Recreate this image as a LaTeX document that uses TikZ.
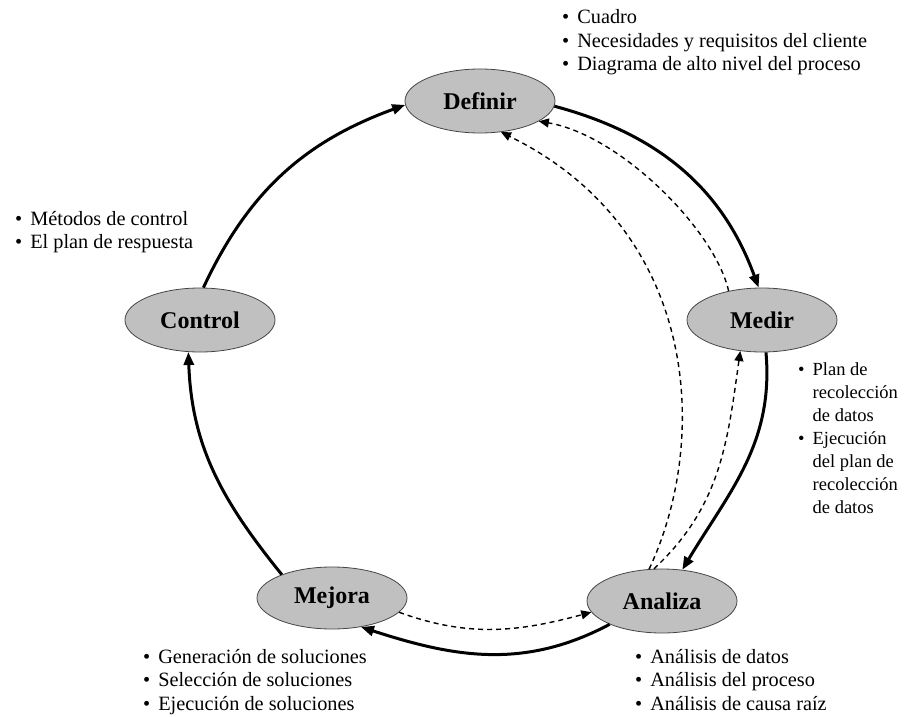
\documentclass[tikz,border=0pt]{standalone}
\usepackage{fontspec}
\setmainfont{Liberation Serif}
\usetikzlibrary{arrows.meta,shapes.geometric}
\definecolor{phasefill}{RGB}{192,192,192}
\definecolor{phaseline}{RGB}{70,70,70}
\newcommand{\bul}{•}
\begin{document}
\begin{tikzpicture}[x=1pt,y=1pt,
  phase/.style={ellipse,draw=phaseline,line width=0.8pt,fill=phasefill,
    minimum width=150pt,minimum height=64pt,inner sep=0pt,
    font=\fontsize{24}{28}\selectfont\bfseries},
  bullets/.style={anchor=base west,inner sep=0pt,align=left,
    font=\fontsize{20.3}{23.5}\selectfont},
  mainarrow/.style={line width=3pt,-{Triangle[length=13pt,width=10pt]}},
  backarrow/.style={line width=1.4pt,dash pattern=on 5pt off 4pt,
    -{Triangle[length=10pt,width=9pt]}}]
\useasboundingbox (0,0) rectangle (905,-717);

\node[phase] (definir) at (480,-101) {Definir};
\node[phase] (medir)   at (762,-320) {Medir};
\node[phase] (control) at (200,-320) {Control};
\node[phase,minimum height=62pt] (mejora)  at (332,-598) {Mejora};
\node[phase] (analiza) at (662,-601) {Analiza};

% main cycle
\draw[mainarrow] (control.84) to[out=65,in=200] (definir.183);
\draw[mainarrow] (definir.-4) to[out=-15,in=110] (medir.96);
\draw[mainarrow] (medir.-83) to[out=-85,in=59] (analiza.57);
\draw[mainarrow] (analiza.204) to[out=208,in=-18] (mejora.-45);
\draw[mainarrow] (mejora.155) to[out=129,in=-88] (control.-110);

% feedback (dashed)
\draw[backarrow] (mejora.-12) to[out=-20,in=195] (analiza.189);
\draw[backarrow] (analiza.104) to[out=43,in=262] (medir.-125);
\draw[backarrow] (analiza.112) .. controls (710,-440) and (700,-230) .. (definir.-56);
\draw[backarrow] (medir.139) .. controls (715,-230) and (620,-135) .. (definir.-19);

% texts
\node[bullets] (tdef) at (562,-24) {\begin{tabular}[t]{@{}l@{\hspace{8pt}}l@{}}
\bul&Cuadro\\ \bul&Necesidades y requisitos del cliente\\ \bul&Diagrama de alto nivel del proceso\end{tabular}};
\node[bullets,font=\fontsize{18.5}{23}\selectfont] (tmed) at (798,-375) {\begin{tabular}[t]{@{}l@{\hspace{8pt}}l@{}}
\bul&Plan de\\ &recolección\\ &de datos\\ \bul&Ejecución\\ &del plan de\\ &recolección\\ &de datos\end{tabular}};
\node[bullets] (tcon) at (15,-225) {\begin{tabular}[t]{@{}l@{\hspace{8pt}}l@{}}
\bul&Métodos de control\\ \bul&El plan de respuesta\end{tabular}};
\node[bullets] (tmej) at (143,-663) {\begin{tabular}[t]{@{}l@{\hspace{8pt}}l@{}}
\bul&Generación de soluciones\\ \bul&Selección de soluciones\\ \bul&Ejecución de soluciones\end{tabular}};
\node[bullets] (tana) at (635,-663) {\begin{tabular}[t]{@{}l@{\hspace{8pt}}l@{}}
\bul&Análisis de datos\\ \bul&Análisis del proceso\\ \bul&Análisis de causa raíz\end{tabular}};
\end{tikzpicture}
\end{document}
